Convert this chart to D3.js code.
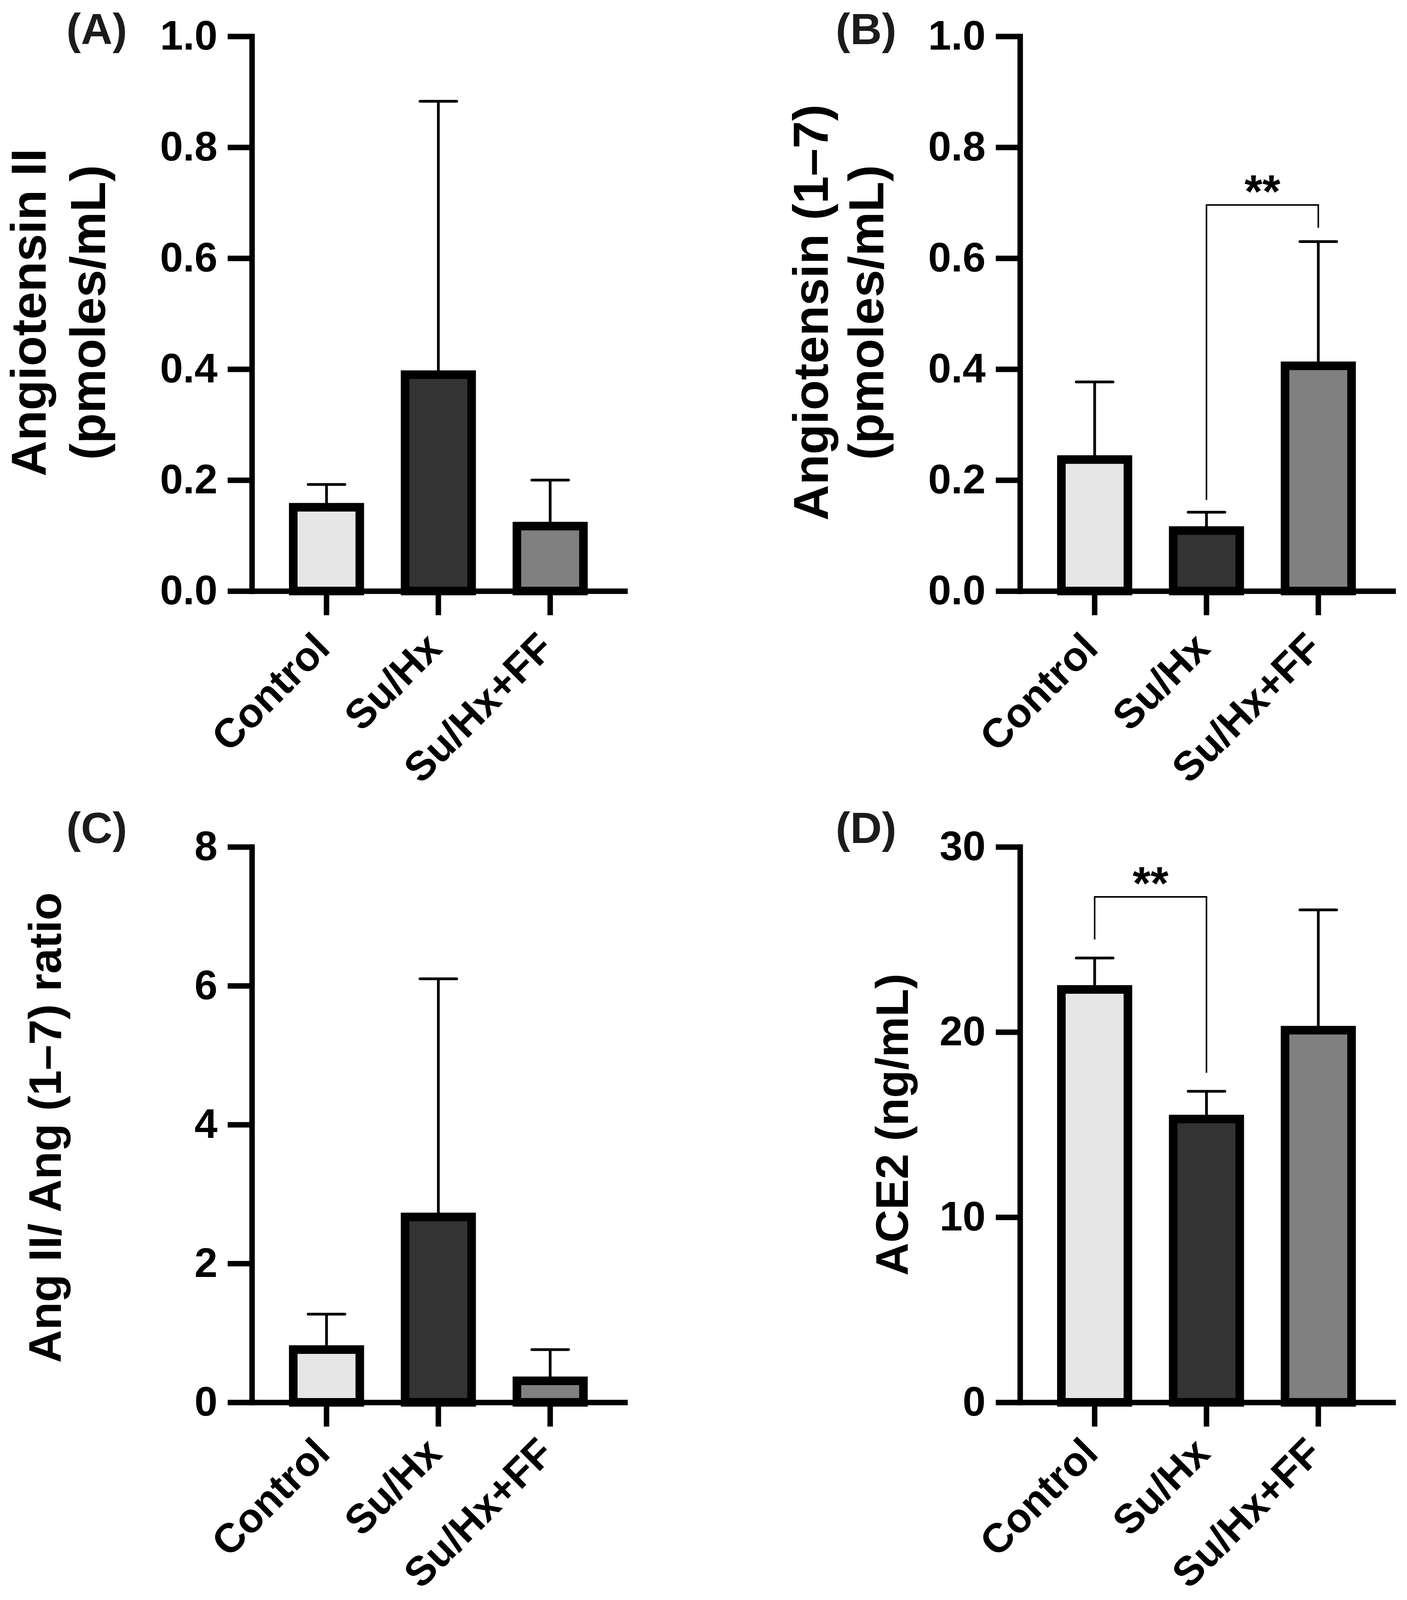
<!DOCTYPE html>
<html>
<head>
<meta charset="utf-8">
<script src="https://cdn.jsdelivr.net/npm/d3@7"></script>
<style>
	body { margin: 0; background: #fff; }
	svg { display: block; font-family: 'Liberation Sans', Arial, sans-serif; font-weight: bold; }
</style>
</head>
<body>
<div id="chart"></div>
<script>
// groups shared by all four panels
const groups = ['Control', 'Su/Hx', 'Su/Hx+FF'];

// (A) Angiotensin II, pmoles/mL
const angII = [0.151, 0.39, 0.117];
const angIISem = [0.041, 0.493, 0.083];
// (B) Angiotensin (1-7), pmoles/mL
const ang17 = [0.237, 0.109, 0.406];
const ang17Sem = [0.140, 0.033, 0.224];
// (C) Ang II / Ang (1-7) ratio
const ratio = [0.76, 2.67, 0.31];
const ratioSem = [0.51, 3.43, 0.45];
// (D) ACE2, ng/mL
const ace2 = [22.3, 15.3, 20.1];
const ace2Sem = [1.7, 1.5, 6.5];

// tick labels
const ticksAng = [0, 0.2, 0.4, 0.6, 0.8, 1.0];
const ticksRatio = [0, 2, 4, 6, 8];
const ticksAce = [0, 10, 20, 30];

// significance brackets: [from, to, bracket level, left end, right end]
const sigB = ['Su/Hx', 'Su/Hx+FF', 0.696, 0.164, 0.655];
const sigD = ['Control', 'Su/Hx', 27.3, 25.0, 17.8];

const W = 3603;
const H = 4131;
const fills = ['#e6e6e6', '#333333', '#808080'];

const svg = d3.select('#chart').append('svg')
	.attr('width', W)
	.attr('height', H)
	.attr('viewBox', `0 0 ${W} ${H}`);

svg.append('rect').attr('width', W).attr('height', H).attr('fill', '#fff');

function panel(opt){
	const innerW = 955;

	const x = d3.scaleBand()
		.domain(groups)
		.range([opt.left, opt.left + innerW])
		.paddingInner(0.405)
		.paddingOuter(0.37);
	const y = d3.scaleLinear()
		.domain([0, opt.max])
		.range([opt.bottom, opt.top]);

	const data = groups.map((g, i) => ({g, mean: opt.means[i], sem: opt.sems[i], fill: fills[i]}));
	const cx = d => x(d.g) + x.bandwidth() / 2;

	const g = svg.append('g');

	//error bars (upper only)
	const err = g.append('g').attr('stroke', '#000').attr('stroke-width', 7);
	err.selectAll('line.v')
		.data(data)
		.enter().append('line')
		.attr('class', 'v')
		.attr('x1', cx).attr('x2', cx)
		.attr('y1', d => y(d.mean))
		.attr('y2', d => y(d.mean + d.sem));
	err.selectAll('line.cap')
		.data(data)
		.enter().append('line')
		.attr('class', 'cap')
		.attr('stroke-linecap', 'round')
		.attr('x1', d => cx(d) - 47).attr('x2', d => cx(d) + 47)
		.attr('y1', d => y(d.mean + d.sem))
		.attr('y2', d => y(d.mean + d.sem));

	//bars
	g.selectAll('rect.bar')
		.data(data)
		.enter().append('rect')
		.attr('class', 'bar')
		.attr('x', d => x(d.g))
		.attr('width', x.bandwidth())
		.attr('y', d => y(d.mean))
		.attr('height', d => y(0) - y(d.mean))
		.attr('fill', d => d.fill)
		.attr('stroke', '#000')
		.attr('stroke-width', 22);

	//axes
	const axisY = d3.axisLeft(y)
		.tickValues(opt.ticks)
		.tickFormat(opt.format)
		.tickSize(62)
		.tickSizeOuter(0)
		.tickPadding(26);
	const gy = g.append('g')
		.attr('transform', `translate(${opt.left},0)`)
		.call(axisY);

	const axisX = d3.axisBottom(x)
		.tickSize(62)
		.tickSizeOuter(0);
	const gx = g.append('g')
		.attr('transform', `translate(0,${opt.bottom})`)
		.call(axisX);

	[gy, gx].forEach(a => {
		a.attr('font-family', null).attr('font-size', 106);
		a.selectAll('.domain').attr('stroke-width', 14).attr('stroke-linecap', 'square');
		a.selectAll('.tick line').attr('stroke-width', 14);
		a.selectAll('.tick text').attr('fill', '#000');
	});

	gx.selectAll('.tick text')
		.attr('x', 0).attr('y', 0).attr('dy', 0)
		.attr('font-size', 105)
		.attr('text-anchor', 'end')
		.attr('transform', `translate(14,${opt.labelDy}) rotate(-45)`);

	//y-axis title
	const title = g.append('g')
		.attr('font-size', opt.titleSize)
		.attr('text-anchor', 'middle');
	opt.title.forEach((t, i) => {
		title.append('text')
			.attr('transform', `translate(${opt.titleX[i]},${opt.titleY}) rotate(-90)`)
			.text(t);
	});

	//panel letter
	g.append('text')
		.attr('x', opt.labelX)
		.attr('y', opt.labelY)
		.attr('font-size', 112)
		.attr('fill', '#1c1c1c')
		.text(opt.label);

	//significance bracket
	if(opt.sig){
		const [a, b, lvl, e1, e2] = opt.sig;
		const x1 = x(a) + x.bandwidth() / 2;
		const x2 = x(b) + x.bandwidth() / 2;
		g.append('path')
			.attr('d', `M${x1},${y(e1)}V${y(lvl)}H${x2}V${y(e2)}`)
			.attr('fill', 'none')
			.attr('stroke', '#000')
			.attr('stroke-width', 4);
		g.append('text')
			.attr('x', (x1 + x2) / 2)
			.attr('y', y(lvl) + 6)
			.attr('text-anchor', 'middle')
			.attr('font-size', 118)
			.text('**');
	}
}

panel({
	left: 645, top: 93, bottom: 1513, max: 1.0,
	means: angII, sems: angIISem, ticks: ticksAng, format: d3.format('.1f'),
	title: ['Angiotensin II', '(pmoles/mL)'], titleX: [117, 269], titleY: 800, titleSize: 127,
	label: '(A)', labelX: 170, labelY: 113, labelDy: 152
});

panel({
	left: 2612, top: 93, bottom: 1513, max: 1.0,
	means: ang17, sems: ang17Sem, ticks: ticksAng, format: d3.format('.1f'),
	title: ['Angiotensin (1\u20137)', '(pmoles/mL)'], titleX: [2120, 2262], titleY: 800, titleSize: 127,
	label: '(B)', labelX: 2140, labelY: 113, labelDy: 152, sig: sigB
});

panel({
	left: 645, top: 2168, bottom: 3590, max: 8,
	means: ratio, sems: ratioSem, ticks: ticksRatio, format: d3.format('d'),
	title: ['Ang II/ Ang (1\u20137) ratio'], titleX: [156], titleY: 2887, titleSize: 117,
	label: '(C)', labelX: 170, labelY: 2158, labelDy: 136
});

panel({
	left: 2612, top: 2168, bottom: 3590, max: 30,
	means: ace2, sems: ace2Sem, ticks: ticksAce, format: d3.format('d'),
	title: ['ACE2 (ng/mL)'], titleX: [2325], titleY: 2879, titleSize: 117,
	label: '(D)', labelX: 2140, labelY: 2158, labelDy: 136, sig: sigD
});
</script>
</body>
</html>
